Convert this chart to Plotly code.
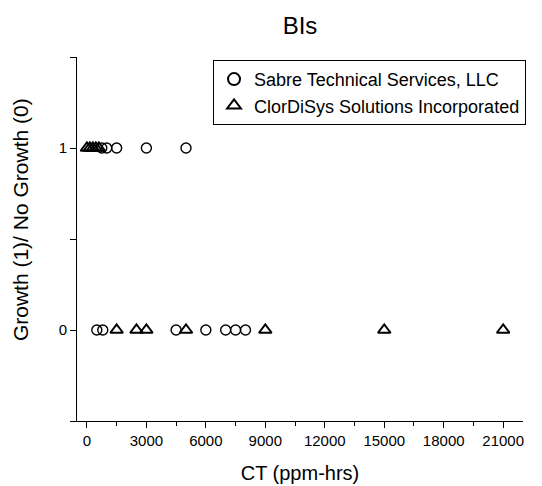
import plotly.graph_objects as go

sabre_ct = [750, 1000, 1500, 3000, 5000,
            500, 800, 4500, 6000, 7000, 7500, 8000]
sabre_growth = [1, 1, 1, 1, 1,
                0, 0, 0, 0, 0, 0, 0]

clor_ct = [0, 150, 300, 450, 600,
           1500, 2500, 3000, 5000, 9000, 15000, 21000]
clor_growth = [1, 1, 1, 1, 1,
               0, 0, 0, 0, 0, 0, 0]

series_names = ["Sabre Technical Services, LLC", "ClorDiSys Solutions Incorporated"]
x_tickvals = [0, 3000, 6000, 9000, 12000, 15000, 18000, 21000]
x_ticktext = ["0", "3000", "6000", "9000", "12000", "15000", "18000", "21000"]
y_tickvals = [0, 1]
y_ticktext = ["0", "1"]
y_title = "Growth (1)/ No Growth (0)"

fig = go.Figure()
fig.add_trace(go.Scatter(
    x=sabre_ct, y=sabre_growth, mode="markers", name=series_names[0],
    marker=dict(symbol="circle-open", size=10, color="black", line=dict(width=1.4, color="black")),
))
fig.add_trace(go.Scatter(
    x=clor_ct, y=clor_growth, mode="markers", name=series_names[1],
    marker=dict(symbol="triangle-up-open", size=11, color="black", line=dict(width=2, color="black")),
))

font_family = "Liberation Sans, Arial, sans-serif"
fig.update_layout(
    width=542, height=486,
    margin=dict(l=77, r=19, t=57, b=65, autoexpand=False),
    paper_bgcolor="white", plot_bgcolor="white",
    font=dict(family=font_family, color="black", size=15),
    title=dict(text="BIs", x=0.5, xref="paper", xanchor="center", y=0.947, yanchor="middle",
               font=dict(size=24, family=font_family, color="black")),
    legend=dict(x=0.305, y=0.992, xanchor="left", yanchor="top",
                bordercolor="black", borderwidth=1, bgcolor="white",
                font=dict(size=18, family=font_family), tracegroupgap=0,
                itemsizing="constant"),
    showlegend=True,
)
fig.update_xaxes(
    range=[-500, 22000], tickvals=x_tickvals, ticktext=x_ticktext, ticks="outside", ticklen=6, tickwidth=1,
    tickcolor="black", showline=True, linecolor="black", linewidth=1,
    showgrid=False, zeroline=False, tickfont=dict(size=15),
    minor=dict(dtick=1500, tick0=0, ticks="outside", ticklen=4, tickcolor="black", showgrid=False),
    title=dict(text="CT (ppm-hrs)", font=dict(size=20), standoff=17),
)
fig.update_yaxes(
    range=[-0.5, 1.5], tickvals=y_tickvals, ticktext=y_ticktext, ticks="outside", ticklen=6, tickwidth=1,
    tickcolor="black", showline=True, linecolor="black", linewidth=1,
    showgrid=False, zeroline=False, tickfont=dict(size=15),
    minor=dict(dtick=0.5, tick0=0, ticks="outside", ticklen=6, tickcolor="black", showgrid=False),
)
fig.add_annotation(
    text=y_title, textangle=-90, xref="paper", yref="paper", x=0, y=0.552,
    xanchor="center", yanchor="middle", xshift=-57, showarrow=False,
    font=dict(size=21, family=font_family, color="black"),
)
fig.write_html("out.html", config={"displayModeBar": False},
               post_script="document.body.style.margin='0';")
